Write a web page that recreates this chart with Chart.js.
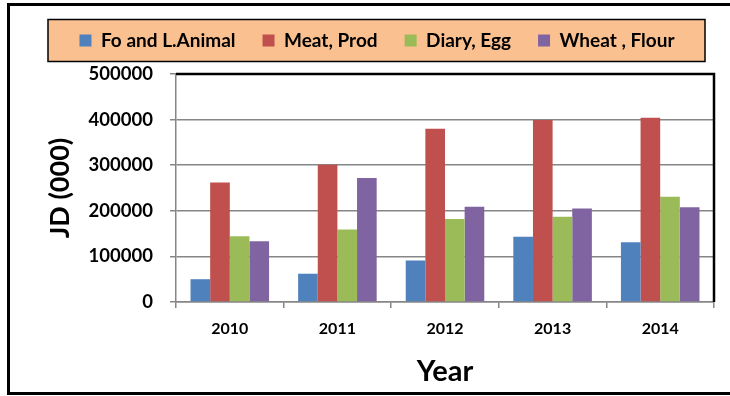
<!DOCTYPE html>
<html>
<head>
<meta charset="utf-8">
<script src="https://cdn.jsdelivr.net/npm/chart.js@4.4.1/dist/chart.umd.min.js"></script>
<style>
    html, body { margin: 0; padding: 0; background: #fff; }
    #wrap { width: 730px; height: 396px; }
</style>
</head>
<body>
<div id="wrap"><canvas id="chart" width="730" height="396"></canvas></div>
<script>
// Values in JD (000)
const years = ['2010', '2011', '2012', '2013', '2014'];
const foodAnimal = [50000, 62000, 91000, 143000, 131000];
const meatProd = [262000, 301000, 380000, 399000, 404000];
const diaryEgg = [144000, 159000, 182000, 187000, 231000];
const wheatFlour = [133000, 272000, 209000, 205000, 208000];
const yTicks = [0, 100000, 200000, 300000, 400000, 500000];

const FONT = 'Lato, "Open Sans", sans-serif';
const PAD = { top: 4, right: 16, bottom: 7, left: 40 };
const AREA = { left: 176, bottom: 302 };
const LEGEND_GAP = 14;   // space between legend panel and plot

// outer frame, legend panel and the black top/right edge of the plot
const framePlugin = {
    id: 'frame',
    beforeLayout(chart) {
        const lg = chart.legend;
        if (lg && !lg._gapped) {
            const fit = lg.fit.bind(lg);
            lg.fit = function () { fit(); this.height += LEGEND_GAP; };
            lg._gapped = true;
        }
    },
    beforeDraw(chart) {
        const ctx = chart.ctx;
        ctx.save();
        ctx.fillStyle = '#fff';
        ctx.fillRect(0, 0, chart.width, chart.height);
        ctx.strokeStyle = '#000';
        ctx.lineWidth = 3;
        ctx.strokeRect(8.5, 4.5, chart.width + 10, chart.height - 7);

        const boxes = chart.legend.legendHitBoxes;
        if (boxes && boxes.length) {
            const mid = boxes[0].top + boxes[0].height / 2;
            ctx.fillStyle = '#FAC090';
            ctx.fillRect(48, mid - 21, 657, 42);
            ctx.lineWidth = 1.5;
            ctx.strokeStyle = '#000';
            ctx.strokeRect(48, mid - 21, 657, 42);
        }
        ctx.restore();
    },
    afterDraw(chart) {
        const { left, top, right, bottom } = chart.chartArea;
        const ctx = chart.ctx;
        ctx.save();
        ctx.strokeStyle = '#000';
        ctx.lineWidth = 2.5;
        ctx.beginPath();
        ctx.moveTo(left, top);
        ctx.lineTo(right, top);
        ctx.lineTo(right, bottom);
        ctx.stroke();
        ctx.restore();
    }
};

new Chart(document.getElementById('chart'), {
    type: 'bar',
    data: {
        labels: years,
        datasets: [
            { label: 'Fo and L.Animal', data: foodAnimal, backgroundColor: '#4F81BD' },
            { label: 'Meat, Prod', data: meatProd, backgroundColor: '#C0504D' },
            { label: 'Diary, Egg', data: diaryEgg, backgroundColor: '#9BBB59' },
            { label: 'Wheat , Flour', data: wheatFlour, backgroundColor: '#8064A2' }
        ]
    },
    options: {
        responsive: false,
        animation: false,
        layout: { padding: PAD },
        datasets: {
            bar: { categoryPercentage: 0.73, barPercentage: 1.0, borderWidth: 0 }
        },
        plugins: {
            legend: {
                position: 'top',
                labels: {
                    color: '#000',
                    font: { family: FONT, size: 19, weight: 'bold' },
                    boxWidth: 12,
                    boxHeight: 12,
                    padding: 27
                }
            },
            tooltip: { enabled: false }
        },
        scales: {
            x: {
                afterFit(scale) { scale.height = 396 - PAD.bottom - AREA.bottom; },
                grid: { drawOnChartArea: false, color: '#868686', lineWidth: 1.5, tickLength: 6 },
                border: { color: '#868686', width: 1.5 },
                ticks: { color: '#000', font: { family: FONT, size: 16, weight: 'bold' }, padding: 11 },
                title: {
                    display: true,
                    text: 'Year',
                    color: '#000',
                    font: { family: FONT, size: 29, weight: 'bold' },
                    padding: { top: 0, bottom: 0 }
                }
            },
            y: {
                min: 0,
                max: 500000,
                afterFit(scale) { scale.width = AREA.left - PAD.left; },
                afterBuildTicks(scale) { scale.ticks = yTicks.map(v => ({ value: v })); },
                grid: { color: '#868686', lineWidth: 1.5, tickLength: 6 },
                border: { color: '#868686', width: 1.5 },
                ticks: {
                    color: '#000',
                    font: { family: FONT, size: 18.5, weight: 'bold' },
                    padding: 17,
                    callback: v => String(v)
                },
                title: {
                    display: true,
                    text: 'JD (000)',
                    color: '#000',
                    font: { family: FONT, size: 27, weight: 'bold' },
                    padding: { top: 4, bottom: 0 }
                }
            }
        }
    },
    plugins: [framePlugin]
});
</script>
</body>
</html>
